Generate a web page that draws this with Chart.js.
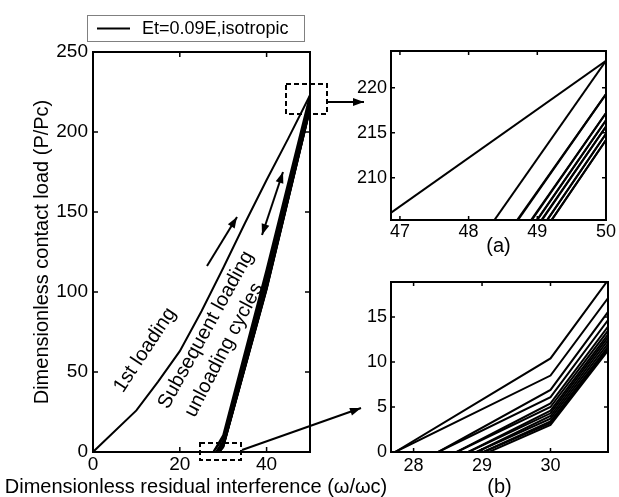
<!DOCTYPE html>
<html>
<head>
<meta charset="utf-8">
<script src="https://cdn.jsdelivr.net/npm/chart.js@4.4.1/dist/chart.umd.min.js"></script>
<style>
  html, body { margin: 0; padding: 0; background: #fff; }
  #wrap { position: relative; width: 619px; height: 497px; overflow: hidden; }
  #wrap canvas { position: absolute; }
</style>
</head>
<body>
<div id="wrap">
  <canvas id="main" width="619" height="497" style="left:0;top:0"></canvas>
  <canvas id="insetA" width="289" height="235" style="left:330px;top:30px"></canvas>
  <canvas id="insetB" width="289" height="232" style="left:330px;top:265px"></canvas>
</div>
<script>
// 1st loading curve
const loadX = [0, 10, 15, 20, 25, 30, 35, 40, 45, 50];
const loadY = [0, 26, 44, 63, 88, 115, 143, 170, 196, 223];

// subsequent unloading / reloading cycles:
// each starts on the x axis, then passes x = 30, 40, 50
const cycleX = [30, 40, 50];
const cycleStart = [27.73, 27.73, 28.36, 28.36, 28.63, 28.63, 28.8, 28.8, 28.92, 28.92, 29.02, 29.02, 29.1];
const cycleAt30 = [10.4, 8.5, 6.9, 6.1, 5.4, 5.0, 4.6, 4.3, 4.0, 3.7, 3.4, 3.2, 3.0];
const cycleAt40 = [114, 111, 110, 108, 107, 106, 105.5, 105, 104, 103, 102.5, 102, 101.5];
const cycleAt50 = [223, 219.3, 219.3, 217.2, 217.2, 216.4, 216.4, 215.7, 215.7, 214.9, 214.9, 214.2, 214.2];

const legendLabel = 'Et=0.09E,isotropic';
const xAxisTitle = 'Dimensionless residual interference (\u03c9/\u03c9c)';
const yAxisTitle = 'Dimensionless contact load (P/Pc)';
const FONT = "'Liberation Sans', Arial, Helvetica, sans-serif";

function buildDatasets() {
  const sets = [{ label: legendLabel, data: loadX.map((x, i) => ({ x, y: loadY[i] })) }];
  cycleStart.forEach((x0, i) => {
    const ys = [cycleAt30[i], cycleAt40[i], cycleAt50[i]];
    sets.push({ label: 'cycle ' + (i + 1), data: [{ x: x0, y: 0 }].concat(cycleX.map((x, j) => ({ x, y: ys[j] }))) });
  });
  return sets.map(s => Object.assign(s, {
    showLine: true, borderColor: '#000', borderWidth: 2, pointRadius: 0, fill: false, tension: 0
  }));
}

// box with inward ticks on all four sides, matlab style
const framePlugin = {
  id: 'frame',
  afterDraw(chart, args, opts) {
    const { ctx, chartArea: a, scales: { x, y } } = chart;
    const len = opts.tick || 5;
    ctx.save();
    ctx.strokeStyle = '#000';
    ctx.lineWidth = 1.5;
    ctx.beginPath();
    x.ticks.forEach(t => {
      const px = x.getPixelForValue(t.value);
      ctx.moveTo(px, a.bottom); ctx.lineTo(px, a.bottom - len);
      ctx.moveTo(px, a.top); ctx.lineTo(px, a.top + len);
    });
    y.ticks.forEach(t => {
      const py = y.getPixelForValue(t.value);
      ctx.moveTo(a.left, py); ctx.lineTo(a.left + len, py);
      ctx.moveTo(a.right, py); ctx.lineTo(a.right - len, py);
    });
    ctx.stroke();
    ctx.lineWidth = 2;
    ctx.strokeRect(a.left, a.top, a.right - a.left, a.bottom - a.top);
    ctx.restore();
  }
};

function arrow(ctx, x1, y1, x2, y2, both) {
  const head = (xa, ya, xb, yb) => {
    const ang = Math.atan2(yb - ya, xb - xa);
    ctx.beginPath();
    ctx.moveTo(xb, yb);
    ctx.lineTo(xb - 11 * Math.cos(ang) + 4 * Math.sin(ang), yb - 11 * Math.sin(ang) - 4 * Math.cos(ang));
    ctx.lineTo(xb - 11 * Math.cos(ang) - 4 * Math.sin(ang), yb - 11 * Math.sin(ang) + 4 * Math.cos(ang));
    ctx.closePath();
    ctx.fill();
  };
  ctx.beginPath();
  ctx.moveTo(x1, y1); ctx.lineTo(x2, y2);
  ctx.stroke();
  head(x1, y1, x2, y2);
  if (both) head(x2, y2, x1, y1);
}

const notes = [
  { text: '1st loading', x: 145, y: 350, angle: -56.5 },
  { text: 'Subsequent loading', x: 206, y: 330, angle: -61 },
  { text: 'unloading cycles', x: 224, y: 350, angle: -62.5 }
];

// legend, x title, zoom boxes, arrows and labels on the main plot
const notesPlugin = {
  id: 'notes',
  afterDraw(chart) {
    const ctx = chart.ctx;
    ctx.save();
    // legend
    ctx.fillStyle = '#fff';
    ctx.fillRect(87, 15, 217, 26);
    ctx.strokeStyle = '#808080';
    ctx.lineWidth = 1;
    ctx.strokeRect(87.5, 15.5, 217, 26);
    ctx.strokeStyle = '#000';
    ctx.lineWidth = 2;
    ctx.beginPath(); ctx.moveTo(97, 28.5); ctx.lineTo(130, 28.5); ctx.stroke();
    ctx.fillStyle = '#000';
    ctx.font = '18px ' + FONT;
    ctx.textBaseline = 'middle';
    ctx.textAlign = 'left';
    ctx.fillText(legendLabel, 142, 29);

    // x axis title, wider than the plot so drawn here
    ctx.font = '20px ' + FONT;
    ctx.textAlign = 'center';
    ctx.fillText(xAxisTitle, 196, 487);

    // dashed zoom boxes
    ctx.setLineDash([5, 3]);
    ctx.lineWidth = 2;
    ctx.strokeRect(286, 84, 41, 30);
    ctx.strokeRect(200, 443, 41, 17);
    ctx.setLineDash([]);

    // arrows
    ctx.lineWidth = 2;
    arrow(ctx, 327, 102, 364, 102);
    arrow(ctx, 242, 450, 361, 408);
    arrow(ctx, 207, 266, 237, 217);
    arrow(ctx, 262, 235, 283, 172, true);

    // rotated labels
    notes.forEach(n => {
      ctx.save();
      ctx.translate(n.x, n.y);
      ctx.rotate(n.angle * Math.PI / 180);
      ctx.fillText(n.text, 0, 0);
      ctx.restore();
    });
    ctx.restore();
  }
};

function makeChart(id, cfg) {
  return new Chart(document.getElementById(id), {
    type: 'scatter',
    data: { datasets: buildDatasets() },
    options: {
      responsive: false,
      animation: false,
      devicePixelRatio: 1,
      layout: { padding: cfg.padding },
      plugins: { legend: { display: false }, tooltip: { enabled: false }, frame: { tick: cfg.tick } },
      scales: {
        x: {
          type: 'linear', min: cfg.x[0], max: cfg.x[1],
          grid: { display: false, drawTicks: false }, border: { display: false },
          ticks: { stepSize: cfg.x[2], includeBounds: false, color: '#000', padding: cfg.xPad,
                   font: { family: FONT, size: cfg.fontSize, lineHeight: 1 } },
          title: cfg.xTitle || { display: false },
          afterFit: s => { s.height = cfg.xHeight; }
        },
        y: {
          type: 'linear', min: cfg.y[0], max: cfg.y[1],
          grid: { display: false, drawTicks: false }, border: { display: false },
          ticks: { stepSize: cfg.y[2], includeBounds: false, color: '#000', padding: cfg.yPad,
                   font: { family: FONT, size: cfg.fontSize, lineHeight: 1 } },
          title: cfg.yTitle || { display: false },
          afterFit: s => { s.width = cfg.yWidth; }
        }
      }
    },
    plugins: cfg.plugins
  });
}

makeChart('main', {
  padding: { top: 52, right: 309, left: 0, bottom: 0 },
  x: [0, 50, 20], y: [0, 250, 50], fontSize: 19, xPad: 3.5, yPad: 5, tick: 5,
  xHeight: 45, yWidth: 93,
  yTitle: { display: true, text: yAxisTitle, color: '#000',
            font: { family: FONT, size: 20, lineHeight: 1.2 }, padding: { top: 30, bottom: 0 } },
  plugins: [framePlugin, notesPlugin]
});

makeChart('insetA', {
  padding: { top: 21, right: 11, left: 0, bottom: 0 },
  x: [46.87, 50, 1], y: [205.3, 224.1, 5], fontSize: 18, xPad: 3, yPad: 4, tick: 4,
  xHeight: 45, yWidth: 61,
  xTitle: { display: true, text: '(a)', color: '#000',
            font: { family: FONT, size: 20, lineHeight: 1 }, padding: { top: 0, bottom: 9 } },
  plugins: [framePlugin]
});

makeChart('insetB', {
  padding: { top: 17, right: 11, left: 0, bottom: 0 },
  x: [27.67, 30.84, 1], y: [0, 18.9, 5], fontSize: 18, xPad: 5.5, yPad: 4, tick: 4,
  xHeight: 45, yWidth: 61,
  xTitle: { display: true, text: '(b)', color: '#000',
            font: { family: FONT, size: 20, lineHeight: 1 }, padding: { top: 0, bottom: 0 } },
  plugins: [framePlugin]
});
</script>
</body>
</html>
